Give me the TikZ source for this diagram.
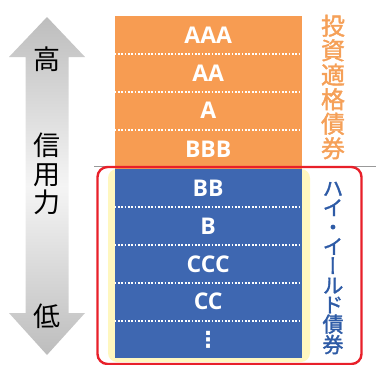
\documentclass[tikz,border=0pt]{standalone}
\usepackage{fontspec}
\setmainfont{Open Sans}
\newfontfamily\cjk{Noto Sans CJK JP}
\newfontfamily\cjkb[FakeBold=1.5]{Noto Sans CJK JP}
\newfontfamily\cjkbv[RawFeature=+vert,FakeBold=1.5]{Noto Sans CJK JP}
\newfontfamily\dejavu{DejaVu Sans}
\usetikzlibrary{positioning}
\definecolor{orangeBox}{HTML}{F79C52}
\definecolor{blueBox}{HTML}{3E67B1}
\definecolor{orangeT}{HTML}{F5A058}
\definecolor{blueT}{HTML}{2E5BA6}
\definecolor{redL}{HTML}{E8202A}
\definecolor{yellowF}{HTML}{FFF7BF}
\definecolor{arrowG}{HTML}{BDBDBD}
\tikzset{
  row/.style={rectangle, inner sep=0pt, minimum width=187pt, minimum height=37.5pt,
    text=white, font=\bfseries\fontsize{23}{23}\selectfont},
  orow/.style={row, fill=orangeBox},
  brow/.style={row, fill=blueBox},
  sep/.style={white, line width=2.3pt, dash pattern=on 1.7pt off 1.65pt},
}
\begin{document}
\begin{tikzpicture}[x=1pt,y=-1pt]
\useasboundingbox (0,0) rectangle (376,365);
% credit arrow
\shade[top color=arrowG, bottom color=arrowG, middle color=white!96!black]
  (47,17) -- (85,57) -- (68.5,57) -- (68.5,313) -- (85,313) -- (47,355)
  -- (9,313) -- (25.5,313) -- (25.5,57) -- (9,57) -- cycle;
\node[font=\cjk\fontsize{27}{27}\selectfont] (hi) at (47,59) {高};
\node[font=\cjk\fontsize{27}{28.5}\selectfont, align=center] (cr) at (47,174) {信\\用\\力};
\node[font=\cjk\fontsize{27}{27}\selectfont] (lo) at (47,316) {低};
% divider line
\coordinate (gl) at (94,166.5);
\coordinate (gr) at (376,166.5);
\draw[gray!80, line width=0.8pt] (gl) -- (gr);
% yellow back
\fill[yellowF, rounded corners=9pt] (108,169) rectangle (310,362);
% rows
\node[orow, anchor=north west] (aaa) at (114.5,16) {AAA};
\node[orow, below=0pt of aaa] (aa) {AA};
\node[orow, below=0pt of aa] (a) {A};
\node[orow, below=0pt of a, minimum height=39pt] (bbb) {BBB};
\node[brow, below=0pt of bbb] (bb) {BB};
\node[brow, below=0pt of bb] (b) {B};
\node[brow, below=0pt of b] (ccc) {CCC};
\node[brow, below=0pt of ccc] (cc) {CC};
\node[brow, below=0pt of cc] (etc) {};
\node[text=white, font=\dejavu\bfseries\fontsize{22}{22}\selectfont] (dots) at (etc.center) {⋮};
\foreach \r in {aaa,aa,a,bb,b,ccc,cc}{
  \draw[sep] (\r.south west) -- (\r.south east);
}
% red frame
\draw[redL, line width=2.4pt, rounded corners=10pt] (97.5,167) rectangle (361.5,364);
% side labels
\node[text=orangeT, font=\cjkb\fontsize{24}{24.5}\selectfont, align=center] (ig) at (333,87) {投\\資\\適\\格\\債\\券};
\node[text=blueT, font=\cjkbv\fontsize{21}{19.4}\selectfont, align=center] (hy) at (333,268) {ハ\\イ\\・\\イ\\ー\\ル\\ド\\債\\券};
\end{tikzpicture}
\end{document}
